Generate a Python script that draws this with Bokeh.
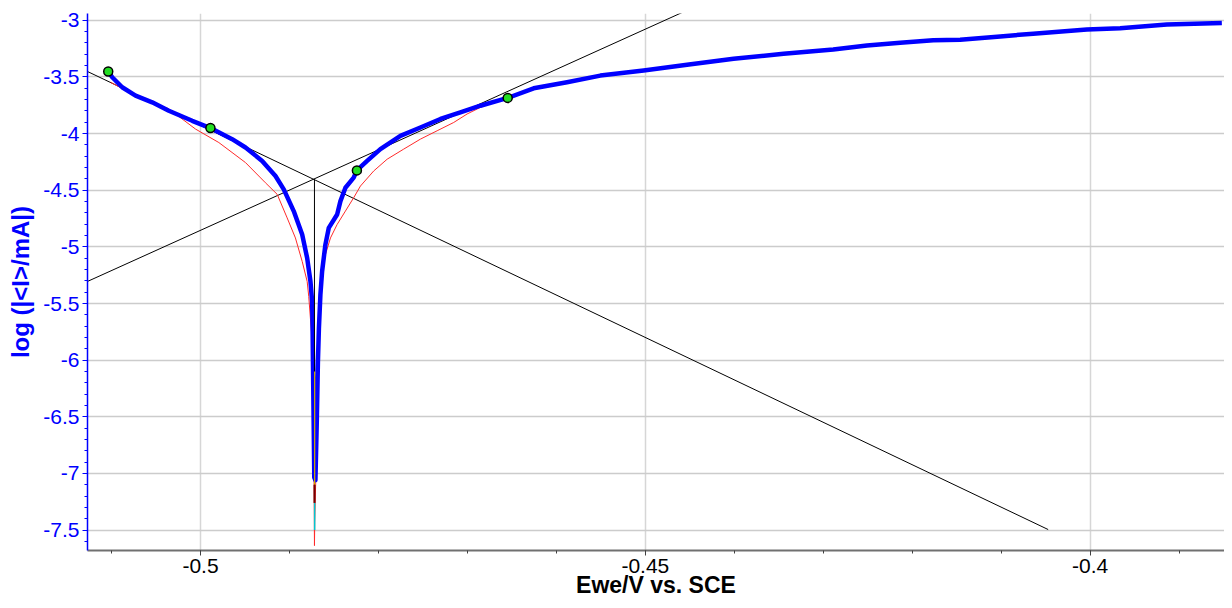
from bokeh.plotting import figure
from bokeh.models import Range1d, SingleIntervalTicker, NumeralTickFormatter
from bokeh.embed import file_html
from bokeh.resources import INLINE

# Measured curve (blue): cathodic branch down to Ecorr, then anodic branch
meas_E = [-0.51037, -0.50992, -0.50880, -0.50730, -0.50543, -0.50356, -0.50093, -0.49888,
          -0.49644, -0.49494, -0.49307, -0.49157, -0.49064, -0.48952, -0.48857, -0.48801,
          -0.48764, -0.48745, -0.48740, -0.48736, -0.48728, -0.48721,
          -0.48708, -0.48693, -0.48680, -0.48669, -0.48652, -0.48633, -0.48596, -0.48558,
          -0.48464, -0.48427, -0.48371, -0.48278, -0.48242, -0.48127, -0.47978, -0.47753,
          -0.47528, -0.47303, -0.47079, -0.46854, -0.46547, -0.46255, -0.45880, -0.45506,
          -0.45019, -0.44531, -0.44008, -0.43446, -0.42888, -0.42509, -0.42135, -0.41764,
          -0.41461, -0.41011, -0.40640, -0.40037, -0.39663, -0.39138, -0.38520]
meas_logI = [-3.452, -3.503, -3.591, -3.665, -3.724, -3.798, -3.887, -3.951,
             -4.049, -4.123, -4.241, -4.374, -4.492, -4.684, -4.891, -5.098,
             -5.305, -5.482, -5.719, -6.014, -6.546, -7.034,
             -7.060, -6.546, -6.014, -5.719, -5.420, -5.216, -4.980, -4.832,
             -4.714, -4.596, -4.478, -4.389, -4.325, -4.241, -4.137, -4.020,
             -3.946, -3.871, -3.813, -3.754, -3.685, -3.600, -3.547, -3.488,
             -3.443, -3.393, -3.340, -3.295, -3.257, -3.222, -3.198, -3.177,
             -3.171, -3.142, -3.118, -3.082, -3.071, -3.038, -3.024]

# Fitted curve (red)
fit_E = [-0.51011, -0.50730, -0.50360, -0.50056, -0.49794, -0.49494, -0.49270, -0.49138,
         -0.49026, -0.48933, -0.48857, -0.48801, -0.48783, -0.48753, -0.48736, -0.48725,
         -0.48719,
         -0.48716, -0.48697, -0.48674, -0.48652, -0.48633, -0.48596, -0.48539, -0.48464,
         -0.48371, -0.48278, -0.48202, -0.48053, -0.47902, -0.47716, -0.47528, -0.47340,
         -0.47154, -0.47003, -0.46854, -0.46706, -0.46594]
fit_logI = [-3.547, -3.665, -3.780, -3.960, -4.079, -4.256, -4.434, -4.536,
            -4.744, -4.921, -5.128, -5.305, -5.438, -5.748, -6.191, -6.812,
            -7.637,
            -7.430, -6.812, -6.191, -5.423, -5.246, -5.068, -4.921, -4.802,
            -4.684, -4.566, -4.463, -4.330, -4.226, -4.137, -4.049, -3.975,
            -3.902, -3.827, -3.769, -3.724, -3.680]

# Tafel lines (end points)
tafel_c_E = [-0.5127, -0.40472]
tafel_c_logI = [-3.452, -7.495]
tafel_a_E = [-0.5127, -0.4400]
tafel_a_logI = [-5.305, -2.723]

# Ecorr marker line
ecorr_E = [-0.48719, -0.48719]
ecorr_logI = [-4.403, -7.26]

# short coloured traces at Ecorr
yellow_E = [-0.48716, -0.48716]
yellow_logI = [-6.10, -7.10]
dark_E = [-0.48718, -0.48718]
dark_logI = [-7.10, -7.26]
cyan_E = [-0.48717, -0.48717]
cyan_logI = [-7.26, -7.50]

# fit-range markers (green)
mark_E = [-0.51037, -0.49888, -0.48242, -0.46547]
mark_logI = [-3.452, -3.951, -4.325, -3.685]

p = figure(width=1224, height=600,
           x_range=Range1d(-0.5127, -0.3849), y_range=Range1d(-7.68, -2.94),
           output_backend="svg", toolbar_location=None,
           min_border_left=87, min_border_right=0, min_border_top=13, min_border_bottom=40)
p.outline_line_color = None

FONT = "Liberation Sans"

xa = p.xaxis[0]
xa.ticker = SingleIntervalTicker(interval=0.05, num_minor_ticks=5)
xa.formatter = NumeralTickFormatter(format="0.[00]")
xa.axis_line_color = "#707070"
xa.axis_line_width = 2
xa.major_tick_line_color = "#404040"
xa.minor_tick_line_color = "#404040"
xa.major_tick_in = 0
xa.major_tick_out = 5
xa.minor_tick_in = 0
xa.minor_tick_out = 3
xa.major_label_text_font = FONT
xa.major_label_text_font_size = "21px"
xa.major_label_text_color = "black"
xa.major_label_standoff = 3
xa.axis_label = "Ewe/V vs. SCE"
xa.axis_label_text_font = FONT
xa.axis_label_text_font_size = "23px"
xa.axis_label_text_font_style = "bold"
xa.axis_label_text_color = "black"
xa.axis_label_standoff = -4

ya = p.yaxis[0]
ya.ticker = SingleIntervalTicker(interval=0.5, num_minor_ticks=5)
ya.formatter = NumeralTickFormatter(format="0.[00]")
ya.axis_line_color = "#0000ff"
ya.axis_line_width = 1.5
ya.major_tick_line_color = "#0000ff"
ya.minor_tick_line_color = "#0000ff"
ya.major_tick_in = 0
ya.major_tick_out = 5
ya.minor_tick_in = 0
ya.minor_tick_out = 3
ya.major_label_text_font = FONT
ya.major_label_text_font_size = "21px"
ya.major_label_text_color = "#0000ff"
ya.major_label_standoff = 3
ya.axis_label = "log (|<I>/mA|)"
ya.axis_label_text_font = FONT
ya.axis_label_text_font_size = "24px"
ya.axis_label_text_font_style = "bold"
ya.axis_label_text_color = "#0000ff"
ya.axis_label_standoff = 6

p.xgrid.grid_line_color = "#d6d6d6"
p.xgrid.grid_line_width = 1.5
p.ygrid.grid_line_color = "#cccccc"
p.ygrid.grid_line_width = 1.5

p.line(tafel_c_E, tafel_c_logI, line_color="black", line_width=1)
p.line(tafel_a_E, tafel_a_logI, line_color="black", line_width=1)
p.line(fit_E, fit_logI, line_color="#ff2a2a", line_width=1)
p.line(meas_E, meas_logI, line_color="#0000ff", line_width=4.5, line_join="round")
p.line(ecorr_E, ecorr_logI, line_color="black", line_width=1)
p.line(yellow_E, yellow_logI, line_color="#ffd700", line_width=1)
p.line(dark_E, dark_logI, line_color="#700000", line_width=2)
p.line(cyan_E, cyan_logI, line_color="#00c8d0", line_width=1.5)
p.scatter(mark_E, mark_logI, size=9, fill_color="#22dd22", line_color="black", line_width=1.5)

open("out.html", "w").write(file_html(p, INLINE))
